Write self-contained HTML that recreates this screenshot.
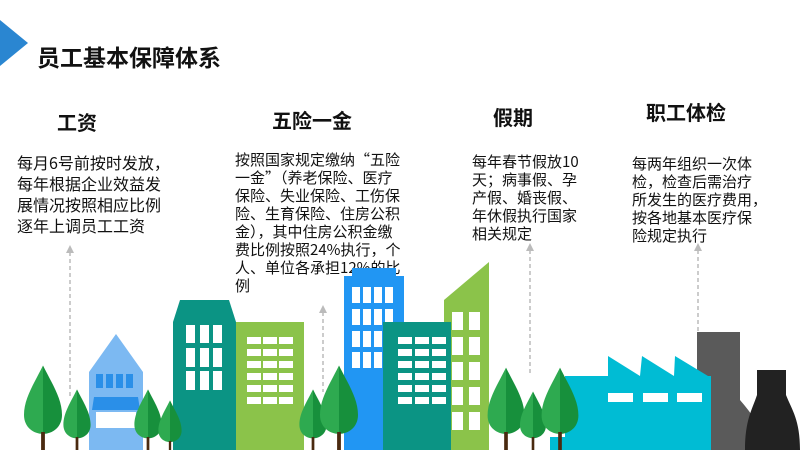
<!DOCTYPE html>
<html><head><meta charset="utf-8"><style>
html,body{margin:0;padding:0;background:#fff;}
svg{display:block;}
text{font-family:"Liberation Sans","Noto Sans CJK SC",sans-serif;fill:#111;}
.h{font-weight:bold;font-size:20px;}
.b text{font-family:"Noto Sans CJK SC","Liberation Sans",sans-serif;}
</style></head><body>
<svg width="800" height="450" viewBox="0 0 800 450" xmlns="http://www.w3.org/2000/svg">
<defs>
<g id="tree"><path d="M0,-70 C-10,-50 -20,-35 -20,-18 C-20,-5 -10,2 0,2 Z" fill="#2eaa50"/><path d="M0,-70 C10,-50 20,-35 20,-18 C20,-5 10,2 0,2 Z" fill="#17903c"/><rect x="-2" y="0" width="4" height="30" fill="#4a2a10"/></g>
</defs>
<polygon points="0,20 28,43 0,66" fill="#2a86d1"/>
<text x="37" y="66" style="font-weight:bold;font-size:23px">员工基本保障体系</text>

<text class="h" x="57" y="130">工资</text>
<text class="h" x="272" y="128">五险一金</text>
<text class="h" x="493" y="125">假期</text>
<text class="h" x="646" y="120">职工体检</text>

<g class="b" style="font-size:16px">
<text x="17" y="169">每月6号前按时发放，</text>
<text x="17" y="190">每年根据企业效益发</text>
<text x="17" y="211">展情况按照相应比例</text>
<text x="17" y="232">逐年上调员工工资</text>
</g>
<g class="b" style="font-size:15px">
<text x="235" y="165">按照国家规定缴纳“五险</text>
<text x="235" y="183">一金”（养老保险、医疗</text>
<text x="235" y="201">保险、失业保险、工伤保</text>
<text x="235" y="219">险、生育保险、住房公积</text>
<text x="235" y="237">金），其中住房公积金缴</text>
<text x="235" y="255">费比例按照24%执行，个</text>
<text x="235" y="273">人、单位各承担12%的比</text>
<text x="235" y="291">例</text>
<text x="472" y="167">每年春节假放10</text>
<text x="472" y="185">天；病事假、孕</text>
<text x="472" y="203">产假、婚丧假、</text>
<text x="472" y="221">年休假执行国家</text>
<text x="472" y="239">相关规定</text>
<text x="632" y="169">每两年组织一次体</text>
<text x="632" y="187">检，检查后需治疗</text>
<text x="632" y="205">所发生的医疗费用，</text>
<text x="632" y="223">按各地基本医疗保</text>
<text x="632" y="241">险规定执行</text>
</g>

<g stroke="#bbb" stroke-width="1.5" stroke-dasharray="4,3" fill="none">
<line x1="70" y1="252" x2="70" y2="396"/>
<line x1="323" y1="312" x2="323" y2="392"/>
<line x1="530" y1="250" x2="530" y2="373"/>
<line x1="698" y1="250" x2="698" y2="370"/>
</g>
<g fill="#bbb">
<polygon points="66,253 74,253 70,245"/>
<polygon points="319,313 327,313 323,305"/>
<polygon points="526,251 534,251 530,243"/>
<polygon points="694,251 702,251 698,243"/>
</g>

<polygon points="89,372 116,334 143,372 143,450 89,450" fill="#7cb9f2"/>
<g fill="#2a8fe8"><rect x="96" y="374" width="7" height="14"/><rect x="106" y="374" width="7" height="14"/><rect x="116" y="374" width="7" height="14"/><rect x="126" y="374" width="7" height="14"/></g>
<polygon points="94,397 138,397 140,410 92,410" fill="#2a8fe8"/>
<rect x="96" y="412" width="40" height="16" fill="#fff"/>

<polygon points="173,322 180,300 229,300 236,322 236,450 173,450" fill="#0b9484"/>
<g fill="#fff"><rect x="186" y="325" width="9" height="18"/><rect x="200" y="325" width="9" height="18"/><rect x="213" y="325" width="9" height="18"/>
<rect x="186" y="348" width="9" height="19"/><rect x="200" y="348" width="9" height="19"/><rect x="213" y="348" width="9" height="19"/>
<rect x="186" y="371" width="9" height="19"/><rect x="200" y="371" width="9" height="19"/><rect x="213" y="371" width="9" height="19"/></g>
<rect x="236" y="322" width="68" height="128" fill="#8bc34a"/>
<g fill="#fff">
<rect x="247" y="337" width="14" height="7"/><rect x="263" y="337" width="14" height="7"/><rect x="279" y="337" width="14" height="7"/>
<rect x="247" y="349" width="14" height="7"/><rect x="263" y="349" width="14" height="7"/><rect x="279" y="349" width="14" height="7"/>
<rect x="247" y="361" width="14" height="7"/><rect x="263" y="361" width="14" height="7"/><rect x="279" y="361" width="14" height="7"/>
<rect x="247" y="373" width="14" height="7"/><rect x="263" y="373" width="14" height="7"/><rect x="279" y="373" width="14" height="7"/>
<rect x="247" y="385" width="14" height="7"/><rect x="263" y="385" width="14" height="7"/><rect x="279" y="385" width="14" height="7"/>
<rect x="247" y="397" width="14" height="7"/><rect x="263" y="397" width="14" height="7"/><rect x="279" y="397" width="14" height="7"/>
</g>
<rect x="344" y="276" width="60" height="174" fill="#2196f3"/>
<rect x="352" y="268" width="44" height="10" fill="#2196f3"/>
<g fill="#fff">
<rect x="352" y="287" width="8" height="16"/><rect x="363" y="287" width="8" height="16"/><rect x="374" y="287" width="8" height="16"/><rect x="385" y="287" width="8" height="16"/>
<rect x="352" y="309" width="8" height="16"/><rect x="363" y="309" width="8" height="16"/><rect x="374" y="309" width="8" height="16"/><rect x="385" y="309" width="8" height="16"/>
<rect x="352" y="331" width="8" height="16"/><rect x="363" y="331" width="8" height="16"/><rect x="374" y="331" width="8" height="16"/><rect x="385" y="331" width="8" height="16"/>
<rect x="352" y="352" width="8" height="16"/><rect x="363" y="352" width="8" height="16"/><rect x="374" y="352" width="8" height="16"/>
</g>
<polygon points="444,300 489,262 489,450 444,450" fill="#8bc34a"/>
<g fill="#fff">
<rect x="452" y="312" width="11" height="18"/><rect x="469" y="312" width="11" height="18"/>
<rect x="452" y="337" width="11" height="18"/><rect x="469" y="337" width="11" height="18"/>
<rect x="452" y="362" width="11" height="18"/><rect x="469" y="362" width="11" height="18"/>
<rect x="452" y="387" width="11" height="18"/><rect x="469" y="387" width="11" height="18"/>
<rect x="452" y="412" width="11" height="18"/><rect x="469" y="412" width="11" height="18"/>
</g>
<rect x="383" y="322" width="68" height="128" fill="#0b9484"/>
<g fill="#fff">
<rect x="398" y="337" width="14" height="7"/><rect x="415" y="337" width="14" height="7"/><rect x="432" y="337" width="14" height="7"/>
<rect x="398" y="349" width="14" height="7"/><rect x="415" y="349" width="14" height="7"/><rect x="432" y="349" width="14" height="7"/>
<rect x="398" y="361" width="14" height="7"/><rect x="415" y="361" width="14" height="7"/><rect x="432" y="361" width="14" height="7"/>
<rect x="398" y="373" width="14" height="7"/><rect x="415" y="373" width="14" height="7"/><rect x="432" y="373" width="14" height="7"/>
<rect x="398" y="385" width="14" height="7"/><rect x="415" y="385" width="14" height="7"/><rect x="432" y="385" width="14" height="7"/>
<rect x="398" y="397" width="14" height="7"/><rect x="415" y="397" width="14" height="7"/><rect x="432" y="397" width="14" height="7"/>
</g>

<path d="M697,332 L740,332 L740,400 C748,410 760,420 760,450 L697,450 Z" fill="#5a5a5a"/>
<path d="M757,370 L786,370 L786,395 C792,410 800,420 800,450 L745,450 C745,420 752,410 757,395 Z" fill="#222"/>
<polygon points="565,376 608,376 608,356 640,376 642,356 674,376 675,356 708,376 711,376 711,450 565,450" fill="#00bcd4"/>
<rect x="550" y="437" width="30" height="13" fill="#00bcd4"/>
<g fill="#fff"><rect x="608" y="393" width="25" height="9"/><rect x="643" y="393" width="25" height="9"/><rect x="677" y="393" width="25" height="9"/></g>

<use href="#tree" transform="translate(43,432) scale(0.95)"/>
<use href="#tree" transform="translate(77,437) scale(0.68)"/>
<use href="#tree" transform="translate(148,437) scale(0.68)"/>
<use href="#tree" transform="translate(170,441) scale(0.58)"/>
<use href="#tree" transform="translate(313,437) scale(0.68)"/>
<use href="#tree" transform="translate(339,432) scale(0.95)"/>
<use href="#tree" transform="translate(506,432) scale(0.92)"/>
<use href="#tree" transform="translate(533,437) scale(0.65)"/>
<use href="#tree" transform="translate(560,432) scale(0.92)"/>
</svg>
</body></html>
